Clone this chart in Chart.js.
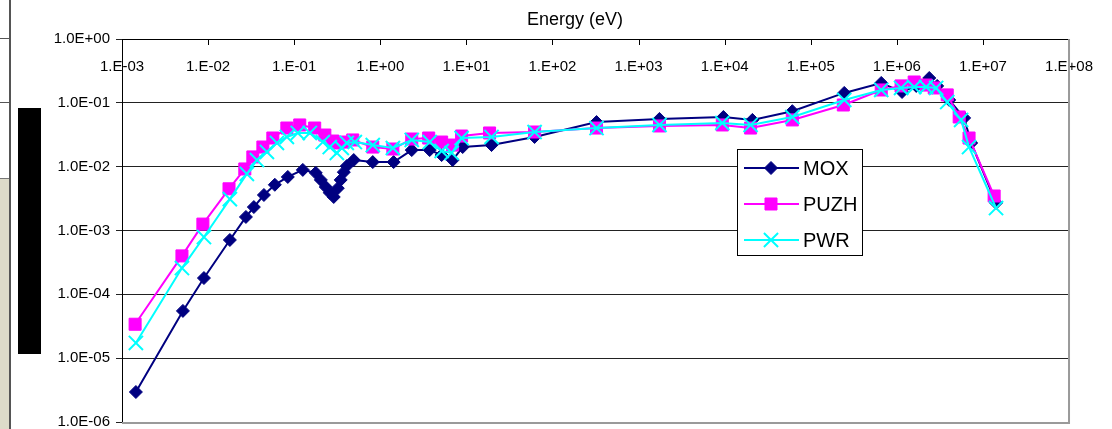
<!DOCTYPE html>
<html>
<head>
<meta charset="utf-8">
<script src="https://cdn.jsdelivr.net/npm/chart.js@4.4.0/dist/chart.umd.min.js"></script>
<style>
  html, body { margin: 0; padding: 0; background: #fff; overflow: hidden; }
  #wrap { position: absolute; left: 0; top: 0; width: 1112px; height: 429px; }
  .deco { position: absolute; }
</style>
</head>
<body>
<!-- bits of the slide behind the chart -->
<div class="deco" style="left:0;top:179px;width:9px;height:250px;background:#dddbc9"></div>
<div class="deco" style="left:9px;top:0;width:2px;height:429px;background:#555"></div>
<div class="deco" style="left:0;top:38px;width:9px;height:1px;background:#555"></div>
<div class="deco" style="left:0;top:102px;width:9px;height:1px;background:#555"></div>
<div class="deco" style="left:0;top:178px;width:9px;height:1px;background:#777"></div>
<div class="deco" style="left:18px;top:108px;width:23px;height:246px;background:#000"></div>
<div id="wrap"><canvas id="chart"></canvas></div>
<script>
// tick values and labels
const xTicks = [1e-3, 1e-2, 1e-1, 1e0, 1e1, 1e2, 1e3, 1e4, 1e5, 1e6, 1e7, 1e8];
const xTickLabels = ["1.E-03", "1.E-02", "1.E-01", "1.E+00", "1.E+01", "1.E+02", "1.E+03", "1.E+04", "1.E+05", "1.E+06", "1.E+07", "1.E+08"];
const yTicks = [1e-6, 1e-5, 1e-4, 1e-3, 1e-2, 1e-1, 1e0];
const yTickLabels = ["1.0E-06", "1.0E-05", "1.0E-04", "1.0E-03", "1.0E-02", "1.0E-01", "1.0E+00"];

// MOX
const moxE = [1.45e-3, 5.1e-3, 8.95e-3, 0.0179, 0.0275, 0.034, 0.0445, 0.0596, 0.0843, 0.126,
  0.178, 0.204, 0.233, 0.259, 0.288, 0.321, 0.347, 0.377, 0.408, 0.492,
  0.818, 1.43, 2.32, 3.75, 5.16, 6.93, 9.06, 19.6, 62, 325,
  1750, 9670, 21000, 61100, 245000, 659000, 1.15e6, 1.68e6, 2.38e6, 2.94e6,
  4.06e6, 6.05e6, 7.3e6, 1.42e7];
const moxVal = [2.95e-6, 5.5e-5, 1.8e-4, 7.1e-4, 1.63e-3, 2.33e-3, 3.6e-3, 5.2e-3, 6.9e-3, 8.9e-3,
  8.0e-3, 6.2e-3, 4.8e-3, 3.9e-3, 3.35e-3, 4.6e-3, 6.2e-3, 8.2e-3, 1.02e-2, 1.27e-2,
  1.18e-2, 1.18e-2, 1.82e-2, 1.82e-2, 1.52e-2, 1.27e-2, 2.03e-2, 2.18e-2, 2.92e-2, 5.0e-2,
  5.6e-2, 6.0e-2, 5.4e-2, 7.4e-2, 0.143, 0.205, 0.148, 0.184, 0.245, 0.184,
  0.111, 5.8e-2, 2.35e-2, 2.7e-3];

// PUZH
const puzhE = [1.42e-3, 4.97e-3, 8.7e-3, 0.0175, 0.0267, 0.0331, 0.0433, 0.0565, 0.0822, 0.116,
  0.173, 0.227, 0.281, 0.321, 0.366, 0.479, 0.818, 1.40, 2.32, 3.65,
  5.16, 6.93, 8.8, 18.6, 62, 325, 1750, 9400, 20000, 61100,
  239000, 659000, 1.12e6, 1.59e6, 2.19e6, 2.72e6, 3.85e6, 5.3e6, 6.9e6, 1.35e7];
const puzhVal = [3.4e-5, 4.0e-4, 1.26e-3, 4.5e-3, 9.2e-3, 1.42e-2, 2.03e-2, 2.81e-2, 4.03e-2, 4.5e-2,
  4.03e-2, 3.13e-2, 2.52e-2, 2.35e-2, 2.43e-2, 2.62e-2, 2.03e-2, 1.89e-2, 2.71e-2, 2.81e-2,
  2.43e-2, 2.18e-2, 3.02e-2, 3.37e-2, 3.49e-2, 4.03e-2, 4.34e-2, 4.5e-2, 4.03e-2, 5.4e-2,
  9.25e-2, 0.159, 0.184, 0.212, 0.19, 0.171, 0.133, 6.0e-2, 2.81e-2, 3.47e-3];

// PWR
const pwrE = [1.45e-3, 4.97e-3, 8.95e-3, 0.0179, 0.0282, 0.0369, 0.0482, 0.063, 0.0822, 0.110,
  0.152, 0.215, 0.259, 0.313, 0.357, 0.408, 0.506, 0.818, 1.40, 2.32,
  3.75, 5.16, 6.75, 8.8, 19.6, 62, 325, 1750, 9400, 20000,
  61100, 245000, 659000, 1.12e6, 1.59e6, 2.19e6, 2.86e6, 3.85e6, 5.58e6, 6.9e6, 1.42e7];
const pwrVal = [1.73e-5, 2.58e-4, 7.9e-4, 3.1e-3, 7.7e-3, 1.27e-2, 1.7e-2, 2.35e-2, 2.92e-2, 3.37e-2,
  3.37e-2, 2.43e-2, 2.03e-2, 1.64e-2, 1.96e-2, 2.35e-2, 2.43e-2, 2.18e-2, 1.96e-2, 2.62e-2,
  2.43e-2, 1.76e-2, 1.64e-2, 2.81e-2, 2.92e-2, 3.49e-2, 4.03e-2, 4.5e-2, 4.83e-2, 4.5e-2,
  6.0e-2, 0.111, 0.159, 0.171, 0.177, 0.177, 0.171, 0.103, 5.4e-2, 2.03e-2, 2.25e-3];

const toPoints = (xs, ys) => xs.map((x, i) => ({ x: x, y: ys[i] }));

Chart.defaults.font.family = "'Liberation Sans', Arial, sans-serif";
Chart.defaults.color = "#000";

// draws title, inner x ticks, frame and the boxed legend
const extras = {
  id: "extras",
  afterDraw(chart) {
    const ctx = chart.ctx;
    const area = chart.chartArea;
    const xs = chart.scales.x;
    ctx.save();

    ctx.fillStyle = "#000";
    ctx.font = "18px 'Liberation Sans', Arial, sans-serif";
    ctx.textAlign = "center";
    ctx.textBaseline = "middle";
    ctx.fillText("Energy (eV)", 575, 20);

    ctx.strokeStyle = "#000";
    ctx.lineWidth = 1;
    xTicks.forEach(t => {
      const px = Math.round(xs.getPixelForValue(t)) + 0.5;
      ctx.beginPath();
      ctx.moveTo(px, area.top);
      ctx.lineTo(px, area.top + 6);
      ctx.stroke();
    });

    ctx.strokeStyle = "#9a9a9a";
    ctx.lineWidth = 2;
    ctx.beginPath();
    ctx.moveTo(area.right, area.top);
    ctx.lineTo(area.right, area.bottom + 1);
    ctx.lineTo(area.left, area.bottom + 1);
    ctx.stroke();

    // legend
    const box = { x: 737.5, y: 149.5, w: 125, h: 106 };
    ctx.fillStyle = "#fff";
    ctx.fillRect(box.x, box.y, box.w, box.h);
    ctx.strokeStyle = "#000";
    ctx.lineWidth = 1;
    ctx.strokeRect(box.x, box.y, box.w, box.h);
    ctx.font = "20px 'Liberation Sans', Arial, sans-serif";
    ctx.textAlign = "left";
    chart.data.datasets.forEach((ds, i) => {
      const y = 168 + i * 36;
      ctx.strokeStyle = ds.borderColor;
      ctx.lineWidth = 2;
      ctx.beginPath();
      ctx.moveTo(744, y);
      ctx.lineTo(799, y);
      ctx.stroke();
      ctx.fillStyle = ds.backgroundColor;
      ctx.lineWidth = ds.pointBorderWidth;
      Chart.helpers.drawPoint(ctx, {
        pointStyle: ds.pointStyle, radius: ds.pointRadius, rotation: 0, borderWidth: ds.pointBorderWidth
      }, 771, y);
      ctx.fillStyle = "#000";
      ctx.fillText(ds.label, 803, y + 1);
    });
    ctx.restore();
  }
};

new Chart(document.getElementById("chart"), {
  type: "line",
  data: {
    datasets: [
      {
        label: "MOX", data: toPoints(moxE, moxVal),
        borderColor: "#000080", backgroundColor: "#000080", borderWidth: 2,
        pointStyle: "rectRot", pointRadius: 6.5, pointBorderWidth: 1, tension: 0, order: 3
      },
      {
        label: "PUZH", data: toPoints(puzhE, puzhVal),
        borderColor: "#ff00ff", backgroundColor: "#ff00ff", borderWidth: 2,
        pointStyle: "rect", pointRadius: 8.5, pointBorderWidth: 1, tension: 0, order: 2
      },
      {
        label: "PWR", data: toPoints(pwrE, pwrVal),
        borderColor: "#00ffff", backgroundColor: "#00ffff", borderWidth: 2,
        pointStyle: "crossRot", pointRadius: 10, pointBorderWidth: 2, tension: 0, order: 1
      }
    ]
  },
  options: {
    responsive: true,
    maintainAspectRatio: false,
    animation: false,
    layout: { autoPadding: false, padding: { left: 0, right: 42, top: 0, bottom: 7 } },
    plugins: { legend: { display: false }, tooltip: { enabled: false } },
    scales: {
      x: {
        type: "logarithmic",
        position: "top",
        min: 1e-3,
        max: 1e8,
        afterBuildTicks: s => { s.ticks = xTicks.map(v => ({ value: v })); },
        afterFit: s => { s.height = 39; },
        grid: { drawOnChartArea: false, drawTicks: false },
        border: { color: "#000", width: 1 },
        ticks: {
          mirror: true, padding: 19, autoSkip: false, maxRotation: 0,
          font: { size: 15 },
          callback: (v, i) => xTickLabels[i]
        }
      },
      y: {
        type: "logarithmic",
        min: 1e-6,
        max: 1,
        afterBuildTicks: s => { s.ticks = yTicks.map(v => ({ value: v })); },
        afterFit: s => { s.width = 122; s.paddingTop = 0; s.paddingBottom = 0; },
        grid: { color: "#222", lineWidth: 1, tickLength: 6 },
        border: { color: "#000", width: 1 },
        ticks: {
          padding: 6,
          font: { size: 15 },
          callback: (v, i) => yTickLabels[i]
        }
      }
    }
  },
  plugins: [extras]
});
</script>
</body>
</html>
